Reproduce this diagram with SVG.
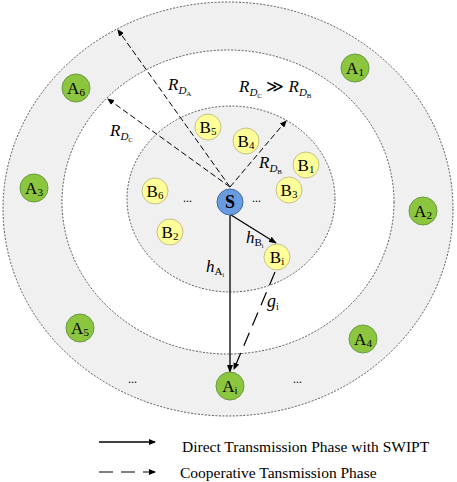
<svg xmlns="http://www.w3.org/2000/svg" width="457" height="482" viewBox="0 0 457 482" font-family="'Liberation Serif','Times New Roman',serif">
<style>
text{font-family:"Liberation Serif","Times New Roman",serif;fill:#000}
.ring{stroke:#333;stroke-width:0.8;stroke-dasharray:2 1.5}
.a{fill:#8cc63f;stroke:#6b9a45;stroke-width:1}
.b{fill:#ffff99;stroke:#c2c28a;stroke-width:1}
.s{fill:#6a9be0;stroke:#3f6ea8;stroke-width:1}
.lbl{font-size:17px}
.sub{font-size:11px}
.it{font-style:italic}
.dash{stroke:#000;stroke-width:1;fill:none}
.sol{stroke:#000;stroke-width:1.3;fill:none}
.dots{font-size:12px}
</style>
<defs>
<marker id="ah" markerWidth="8" markerHeight="6" refX="7" refY="3" orient="auto" markerUnits="userSpaceOnUse"><path d="M0,0 L8,3 L0,6 z" fill="#000"/></marker>
<marker id="ahs" markerWidth="7" markerHeight="6" refX="6" refY="3" orient="auto" markerUnits="userSpaceOnUse"><path d="M0,0 L7,3 L0,6 z" fill="#000"/></marker>
</defs>
<rect width="457" height="482" fill="#fff"/>
<g id="rings">
<ellipse class="ring" cx="228" cy="209" rx="225" ry="207" fill="#f0f0f0"/>
<ellipse class="ring" cx="228" cy="202" rx="166" ry="152" fill="#fff"/>
<ellipse class="ring" cx="231" cy="199" rx="104" ry="93" fill="#f0f0f0"/>
</g>
<g id="connectors">
<line class="dash" style="stroke-dasharray:6 3" x1="230" y1="187" x2="118" y2="30" marker-end="url(#ahs)"/>
<line class="dash" style="stroke-dasharray:6 3" x1="230" y1="187" x2="108" y2="99" marker-end="url(#ahs)"/>
<line class="dash" style="stroke-dasharray:6 3" x1="230" y1="187" x2="286" y2="121" marker-end="url(#ahs)"/>
<line class="sol" x1="230" y1="215" x2="230" y2="372" marker-end="url(#ah)"/>
<line class="sol" x1="231" y1="215" x2="276" y2="243" marker-end="url(#ah)"/>
<line class="dash" style="stroke-dasharray:14 8;stroke-width:1.2" x1="275" y1="272" x2="234" y2="369" marker-end="url(#ahs)"/>
</g>
<g id="labels">
<text x="168" y="90" font-size="17" class="it">R<tspan class="sub" dy="4">D</tspan><tspan font-size="7" dy="2" font-style="normal">A</tspan></text>
<text x="110" y="136" font-size="17" class="it">R<tspan class="sub" dy="4">D</tspan><tspan font-size="7" dy="2" font-style="normal">C</tspan></text>
<text x="239" y="92" font-size="17" class="it">R<tspan class="sub" dy="4">D</tspan><tspan font-size="7" dy="2" font-style="normal">C</tspan><tspan dy="-6" font-style="normal"> ≫ </tspan>R<tspan class="sub" dy="4">D</tspan><tspan font-size="7" dy="2" font-style="normal">B</tspan></text>
<text x="259" y="168" font-size="17" class="it">R<tspan class="sub" dy="4">D</tspan><tspan font-size="7" dy="2" font-style="normal">B</tspan></text>
<text x="246" y="243" font-size="17" class="it">h<tspan class="sub" dy="3" font-style="normal">B</tspan><tspan font-size="6" dy="2" font-style="normal">i</tspan></text>
<text x="206" y="272" font-size="17" class="it">h<tspan class="sub" dy="3" font-style="normal">A</tspan><tspan font-size="6" dy="2" font-style="normal">i</tspan></text>
<text x="267" y="307" font-size="18" class="it">g<tspan font-size="10" dy="3" font-style="normal">i</tspan></text>
<text class="dots" x="183" y="202">...</text>
<text class="dots" x="252" y="202">...</text>
<text class="dots" x="128" y="383">...</text>
<text class="dots" x="293" y="383">...</text>
</g>
<g id="S"><circle class="s" cx="230" cy="202" r="13"/><text x="230" y="208" font-size="18" font-weight="bold" text-anchor="middle">S</text></g>
<g id="A1"><circle class="a" cx="355" cy="68" r="14"/><text x="355" y="74" class="lbl" text-anchor="middle">A<tspan class="sub" dy="2">1</tspan></text></g>
<g id="A6"><circle class="a" cx="76" cy="88" r="14"/><text x="76" y="94" class="lbl" text-anchor="middle">A<tspan class="sub" dy="2">6</tspan></text></g>
<g id="A3"><circle class="a" cx="34" cy="188" r="14"/><text x="34" y="194" class="lbl" text-anchor="middle">A<tspan class="sub" dy="2">3</tspan></text></g>
<g id="A2"><circle class="a" cx="423" cy="211" r="14"/><text x="423" y="217" class="lbl" text-anchor="middle">A<tspan class="sub" dy="2">2</tspan></text></g>
<g id="A5"><circle class="a" cx="80" cy="328" r="14"/><text x="80" y="334" class="lbl" text-anchor="middle">A<tspan class="sub" dy="2">5</tspan></text></g>
<g id="A4"><circle class="a" cx="363" cy="339" r="14"/><text x="363" y="345" class="lbl" text-anchor="middle">A<tspan class="sub" dy="2">4</tspan></text></g>
<g id="Ai"><circle class="a" cx="230" cy="386" r="14"/><text x="230" y="392" class="lbl" text-anchor="middle">A<tspan class="sub" dy="2">i</tspan></text></g>
<g id="B5"><circle class="b" cx="208" cy="127" r="13"/><text x="208" y="133" class="lbl" text-anchor="middle">B<tspan class="sub" dy="2">5</tspan></text></g>
<g id="B4"><circle class="b" cx="246" cy="141" r="13"/><text x="246" y="147" class="lbl" text-anchor="middle">B<tspan class="sub" dy="2">4</tspan></text></g>
<g id="B1"><circle class="b" cx="306" cy="165" r="13"/><text x="306" y="171" class="lbl" text-anchor="middle">B<tspan class="sub" dy="2">1</tspan></text></g>
<g id="B3"><circle class="b" cx="289" cy="190" r="13"/><text x="289" y="196" class="lbl" text-anchor="middle">B<tspan class="sub" dy="2">3</tspan></text></g>
<g id="B6"><circle class="b" cx="155" cy="191" r="13"/><text x="155" y="197" class="lbl" text-anchor="middle">B<tspan class="sub" dy="2">6</tspan></text></g>
<g id="B2"><circle class="b" cx="170" cy="232" r="13"/><text x="170" y="238" class="lbl" text-anchor="middle">B<tspan class="sub" dy="2">2</tspan></text></g>
<g id="Bi"><circle class="b" cx="277" cy="257" r="13"/><text x="277" y="263" class="lbl" text-anchor="middle">B<tspan class="sub" dy="2">i</tspan></text></g>
<g id="legend">
<line class="sol" x1="99" y1="442" x2="155" y2="442" stroke-width="1" marker-end="url(#ahs)"/>
<text x="182" y="452" font-size="15.5">Direct Transmission Phase with SWIPT</text>
<line class="dash" style="stroke-dasharray:14 8;stroke-width:1.2" x1="99" y1="472" x2="155" y2="472" marker-end="url(#ahs)"/>
<text x="180" y="478" font-size="15.5">Cooperative Tansmission Phase</text>
</g>
</svg>
